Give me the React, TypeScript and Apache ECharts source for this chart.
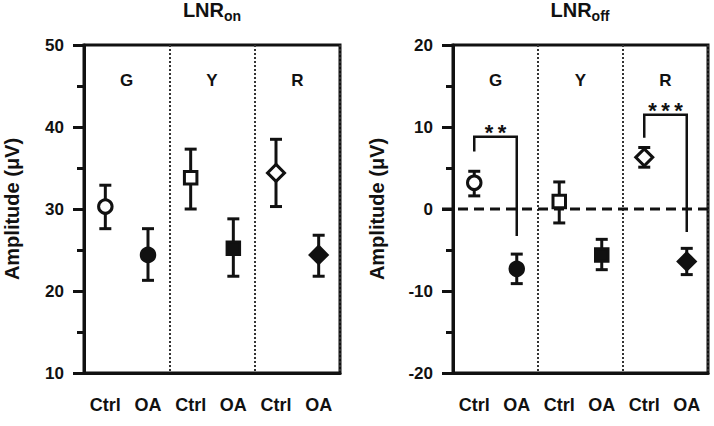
import React, { useEffect, useRef } from 'react';
import * as echarts from 'echarts';

// ---------- data ----------
const categories = ['Ctrl', 'OA', 'Ctrl', 'OA', 'Ctrl', 'OA'];
const groups = ['G', 'Y', 'R'];
const symbols = ['circle', 'circle', 'rect', 'rect', 'diamond', 'diamond'];
const filled = [false, true, false, true, false, true];

const onMean = [30.3, 24.4, 33.8, 25.2, 34.4, 24.4];
const onUpper = [32.9, 27.6, 37.3, 28.8, 38.5, 26.8];
const onLower = [27.6, 21.3, 30.0, 21.8, 30.3, 21.8];

const offMean = [3.2, -7.3, 0.9, -5.6, 6.3, -6.4];
const offUpper = [4.6, -5.5, 3.3, -3.7, 7.5, -4.8];
const offLower = [1.6, -9.1, -1.7, -7.4, 5.1, -8.0];

const offReference = [0];

const bracketFrom = [0, 4];
const bracketTo = [1, 5];
const bracketTop = [8.8, 11.5];
const bracketLeftEnd = [7.0, 8.7];
const bracketRightEnd = [-3.3, -2.8];
const bracketLabels = ['*\u2009*', '*\u2009*\u2009*'];

const onTicks = { min: 10, max: 50, interval: 10 };
const offTicks = { min: -20, max: 20, interval: 10 };

// ---------- style ----------
const FONT = "'Liberation Sans', Arial, sans-serif";
const INK = '#111111';
const LW = 3;

const catIds = categories.map((c, i) => groups[Math.floor(i / 2)] + '|' + c);

function symbolSize(s: string) {
  if (s === 'diamond') return 17;
  if (s === 'rect') return 12.5;
  return 13.5;
}

function buildPanel(p: number, mean: number[], upper: number[], lower: number[]) {
  const catAxis = p * 2;
  const series: any[] = [];
  series.push({
    type: 'custom',
    xAxisIndex: catAxis,
    yAxisIndex: p,
    z: 2,
    silent: true,
    data: upper.map((u, i) => [i, u, lower[i]]),
    encode: { x: 0, y: [1, 2] },
    renderItem: (params: any, api: any) => {
      const x = api.value(0);
      const hi = api.coord([x, api.value(1)]);
      const lo = api.coord([x, api.value(2)]);
      const cap = 6;
      const st = { stroke: INK, lineWidth: LW };
      return {
        type: 'group',
        children: [
          { type: 'line', shape: { x1: hi[0], y1: hi[1], x2: lo[0], y2: lo[1] }, style: st },
          { type: 'line', shape: { x1: hi[0] - cap, y1: hi[1], x2: hi[0] + cap, y2: hi[1] }, style: st },
          { type: 'line', shape: { x1: lo[0] - cap, y1: lo[1], x2: lo[0] + cap, y2: lo[1] }, style: st },
        ],
      };
    },
  });
  series.push({
    type: 'scatter',
    xAxisIndex: catAxis,
    yAxisIndex: p,
    z: 3,
    silent: true,
    data: mean.map((m, i) => ({
      value: [i, m],
      symbol: symbols[i],
      symbolSize: symbolSize(symbols[i]),
      itemStyle: {
        color: filled[i] ? INK : '#ffffff',
        borderColor: INK,
        borderWidth: LW,
        opacity: 1,
      },
    })),
  });
  series.push({
    type: 'custom',
    xAxisIndex: catAxis,
    yAxisIndex: p,
    z: 4,
    silent: true,
    data: groups.map((g, k) => [2 * k, 2 * k + 1]),
    encode: { x: [0, 1] },
    renderItem: (params: any, api: any) => {
      const a = api.coord([api.value(0), 0]);
      const b = api.coord([api.value(1), 0]);
      return {
        type: 'text',
        x: (a[0] + b[0]) / 2,
        y: params.coordSys.y + 35,
        style: {
          text: groups[params.dataIndex],
          fontSize: 17,
          fontWeight: 'bold',
          fontFamily: FONT,
          fill: INK,
          align: 'center',
          verticalAlign: 'middle',
        },
      };
    },
  });
  if (p === 1) {
    series.push({
      type: 'custom',
      xAxisIndex: catAxis,
      yAxisIndex: p,
      z: 1,
      silent: true,
      data: offReference.map((v) => [0, v]),
      encode: { x: 0, y: 1 },
      renderItem: (params: any, api: any) => {
        const c = api.coord([0, api.value(1)]);
        const cs = params.coordSys;
        return {
          type: 'line',
          shape: { x1: cs.x - 11, y1: c[1], x2: cs.x + cs.width, y2: c[1] },
          style: { stroke: INK, lineWidth: LW, lineDash: [10, 6] },
        };
      },
    });
    series.push({
      type: 'custom',
      xAxisIndex: catAxis,
      yAxisIndex: p,
      z: 5,
      silent: true,
      data: bracketFrom.map((f, i) => [f, bracketTo[i], bracketTop[i], bracketLeftEnd[i], bracketRightEnd[i]]),
      encode: { x: [0, 1], y: [2, 3, 4] },
      renderItem: (params: any, api: any) => {
        const f = api.value(0);
        const t = api.value(1);
        const pl = api.coord([f, api.value(2)]);
        const pr = api.coord([t, api.value(2)]);
        const ple = api.coord([f, api.value(3)]);
        const pre = api.coord([t, api.value(4)]);
        return {
          type: 'group',
          children: [
            {
              type: 'polyline',
              shape: { points: [[ple[0], ple[1]], [pl[0], pl[1]], [pr[0], pr[1]], [pre[0], pre[1]]] },
              style: { stroke: INK, lineWidth: 2.5, fill: 'none' },
            },
            {
              type: 'text',
              x: (pl[0] + pr[0]) / 2,
              y: pl[1] - 4,
              style: {
                text: bracketLabels[params.dataIndex],
                fontSize: 22,
                fontWeight: 'bold',
                fontFamily: FONT,
                fill: INK,
                align: 'center',
                verticalAlign: 'middle',
              },
            },
          ],
        };
      },
    });
  }
  return series;
}

function xAxes(g: number) {
  return [
    {
      type: 'category',
      gridIndex: g,
      data: catIds,
      boundaryGap: true,
      axisLine: { onZero: false, lineStyle: { color: INK, width: LW } },
      axisTick: { alignWithLabel: true, length: 13, lineStyle: { color: INK, width: LW } },
      axisLabel: {
        formatter: (v: string) => v.split('|')[1],
        fontSize: 18,
        fontWeight: 'bold',
        fontFamily: FONT,
        color: INK,
        margin: 23,
      },
      splitLine: { show: false },
    },
    {
      type: 'value',
      gridIndex: g,
      min: 0,
      max: 3,
      interval: 1,
      position: 'top',
      axisLine: { show: false, onZero: false },
      axisTick: { show: false },
      axisLabel: { show: false },
      splitLine: { show: true, lineStyle: { type: [2, 2], width: 2, color: '#333' } },
    },
  ];
}

function yAxis(g: number, ticks: any, nameGap: number) {
  return {
    type: 'value',
    gridIndex: g,
    min: ticks.min,
    max: ticks.max,
    interval: ticks.interval,
    name: 'Amplitude (μV)',
    nameLocation: 'middle',
    nameGap,
    nameTextStyle: { fontSize: 20, fontWeight: 'bold', fontFamily: FONT, color: INK },
    axisLine: { show: true, onZero: false, lineStyle: { color: INK, width: LW } },
    axisTick: { show: true, length: 11, lineStyle: { color: INK, width: LW } },
    minorTick: { show: true, splitNumber: 2, length: 7, lineStyle: { color: INK, width: LW } },
    axisLabel: { fontSize: 17, fontWeight: 'bold', fontFamily: FONT, color: INK, margin: 20 },
    splitLine: { show: false },
    minorSplitLine: { show: false },
  };
}

function titleText(x: number, sub: string) {
  return {
    type: 'text',
    x,
    y: 0,
    silent: true,
    style: {
      text: '{a|LNR}{b|' + sub + '}',
      align: 'center',
      fill: INK,
      rich: {
        a: { fontSize: 20, fontWeight: 'bold', fontFamily: FONT, fill: INK, lineHeight: 23, verticalAlign: 'top' },
        b: { fontSize: 14, fontWeight: 'bold', fontFamily: FONT, fill: INK, lineHeight: 15, verticalAlign: 'bottom' },
      },
    },
  };
}

export default function App() {
  const ref = useRef<HTMLDivElement>(null);
  useEffect(() => {
    if (!ref.current) return;
    const chart = echarts.init(ref.current, undefined, { renderer: 'svg' });
    const gridBase = { top: 45, height: 328, show: true, borderColor: INK, borderWidth: LW, backgroundColor: 'transparent' };
    chart.setOption({
      animation: false,
      backgroundColor: '#ffffff',
      grid: [
        { ...gridBase, left: 84, width: 256 },
        { ...gridBase, left: 453, width: 255 },
      ],
      xAxis: [...xAxes(0), ...xAxes(1)],
      yAxis: [yAxis(0, onTicks, 62), yAxis(1, offTicks, 66)],
      series: [...buildPanel(0, onMean, onUpper, onLower), ...buildPanel(1, offMean, offUpper, offLower)],
      graphic: [titleText(212, 'on'), titleText(580, 'off')],
    });
    return () => chart.dispose();
  }, []);
  return <div ref={ref} style={{ position: 'fixed', left: 0, top: 0, width: 714, height: 426 }} />;
}
